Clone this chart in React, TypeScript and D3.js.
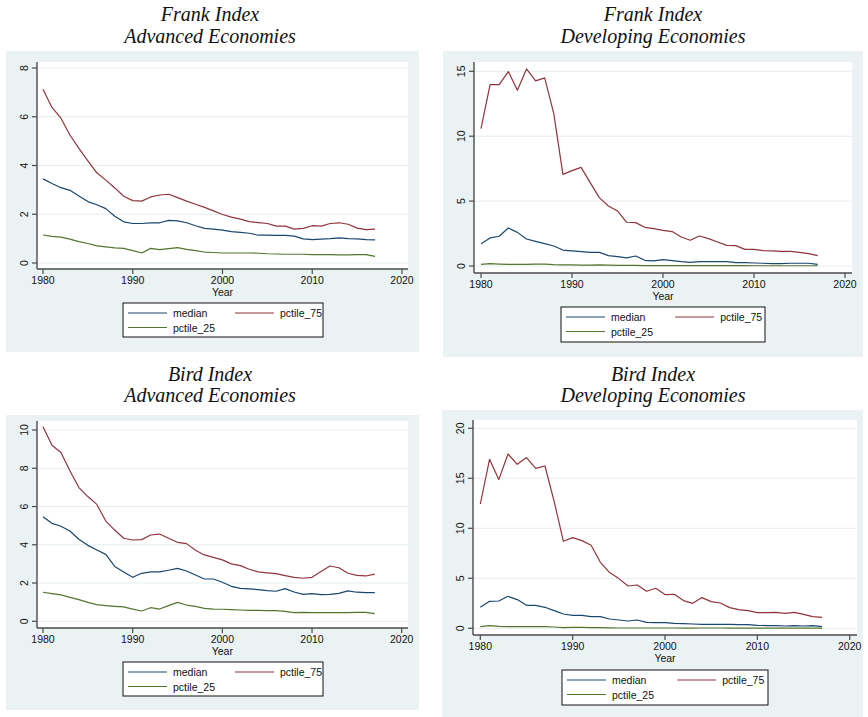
import { useRef, useEffect } from "react";
import * as d3 from "d3";

const years = d3.range(1980, 2018);

const frankAdvMedian = [3.45, 3.26, 3.09, 2.98, 2.75, 2.52, 2.39, 2.23, 1.92, 1.69, 1.62, 1.62, 1.65, 1.65, 1.75, 1.73, 1.65, 1.53, 1.42, 1.39, 1.35, 1.29, 1.26, 1.22, 1.14, 1.14, 1.13, 1.13, 1.1, 0.99, 0.96, 0.98, 1.0, 1.03, 1.0, 0.99, 0.96, 0.95];
const frankAdvP75 = [7.13, 6.38, 5.94, 5.25, 4.7, 4.19, 3.7, 3.4, 3.08, 2.74, 2.56, 2.54, 2.71, 2.79, 2.82, 2.68, 2.54, 2.41, 2.28, 2.14, 1.99, 1.88, 1.8, 1.7, 1.66, 1.62, 1.51, 1.51, 1.39, 1.42, 1.53, 1.51, 1.62, 1.65, 1.59, 1.43, 1.37, 1.39];
const frankAdvP25 = [1.15, 1.09, 1.06, 0.98, 0.88, 0.8, 0.7, 0.66, 0.62, 0.6, 0.51, 0.41, 0.6, 0.55, 0.59, 0.63, 0.56, 0.51, 0.45, 0.43, 0.41, 0.41, 0.41, 0.41, 0.4, 0.38, 0.37, 0.36, 0.36, 0.36, 0.34, 0.34, 0.34, 0.33, 0.33, 0.34, 0.34, 0.27];

const frankDevMedian = [1.72, 2.16, 2.29, 2.93, 2.59, 2.08, 1.9, 1.72, 1.54, 1.23, 1.16, 1.1, 1.05, 1.05, 0.8, 0.72, 0.62, 0.77, 0.44, 0.39, 0.49, 0.41, 0.33, 0.28, 0.33, 0.33, 0.33, 0.33, 0.26, 0.26, 0.23, 0.21, 0.18, 0.18, 0.21, 0.21, 0.21, 0.13];
const frankDevP75 = [10.58, 13.97, 13.97, 14.98, 13.54, 15.18, 14.26, 14.49, 11.74, 7.06, 7.35, 7.6, 6.42, 5.27, 4.62, 4.24, 3.37, 3.34, 2.98, 2.88, 2.75, 2.65, 2.23, 1.98, 2.31, 2.11, 1.85, 1.59, 1.57, 1.28, 1.28, 1.18, 1.16, 1.13, 1.13, 1.05, 0.95, 0.8];
const frankDevP25 = [0.13, 0.18, 0.15, 0.13, 0.13, 0.12, 0.15, 0.15, 0.1, 0.08, 0.08, 0.07, 0.07, 0.08, 0.06, 0.05, 0.05, 0.05, 0.03, 0.03, 0.03, 0.03, 0.03, 0.03, 0.03, 0.03, 0.03, 0.03, 0.03, 0.03, 0.02, 0.02, 0.02, 0.02, 0.02, 0.02, 0.02, 0.02];

const birdAdvMedian = [5.47, 5.12, 4.97, 4.72, 4.29, 3.97, 3.73, 3.5, 2.87, 2.58, 2.3, 2.51, 2.58, 2.58, 2.67, 2.77, 2.63, 2.42, 2.21, 2.21, 2.04, 1.83, 1.72, 1.69, 1.66, 1.6, 1.57, 1.71, 1.53, 1.41, 1.45, 1.39, 1.41, 1.46, 1.59, 1.52, 1.5, 1.5];
const birdAdvP75 = [10.17, 9.2, 8.82, 7.87, 6.99, 6.52, 6.11, 5.24, 4.77, 4.34, 4.25, 4.27, 4.51, 4.56, 4.34, 4.13, 4.06, 3.71, 3.47, 3.34, 3.21, 3.0, 2.91, 2.72, 2.58, 2.53, 2.49, 2.39, 2.3, 2.25, 2.3, 2.6, 2.89, 2.8, 2.51, 2.4, 2.37, 2.47];
const birdAdvP25 = [1.52, 1.45, 1.38, 1.25, 1.13, 0.99, 0.87, 0.82, 0.78, 0.75, 0.64, 0.54, 0.71, 0.64, 0.82, 0.99, 0.85, 0.78, 0.68, 0.64, 0.63, 0.61, 0.59, 0.57, 0.57, 0.56, 0.56, 0.52, 0.45, 0.47, 0.45, 0.45, 0.45, 0.45, 0.45, 0.47, 0.47, 0.4];

const birdDevMedian = [2.1, 2.7, 2.73, 3.2, 2.87, 2.3, 2.3, 2.1, 1.77, 1.43, 1.3, 1.3, 1.17, 1.17, 0.93, 0.83, 0.73, 0.83, 0.6, 0.57, 0.57, 0.5, 0.47, 0.43, 0.4, 0.4, 0.4, 0.4, 0.37, 0.37, 0.3, 0.27, 0.27, 0.23, 0.27, 0.23, 0.27, 0.17];
const birdDevP75 = [12.43, 16.9, 14.87, 17.43, 16.4, 17.07, 16.0, 16.23, 12.67, 8.7, 9.07, 8.77, 8.3, 6.6, 5.57, 4.97, 4.23, 4.33, 3.7, 4.0, 3.37, 3.4, 2.77, 2.5, 3.07, 2.67, 2.53, 2.07, 1.87, 1.77, 1.57, 1.57, 1.6, 1.5, 1.6, 1.4, 1.17, 1.1];
const birdDevP25 = [0.17, 0.27, 0.2, 0.17, 0.17, 0.17, 0.17, 0.17, 0.13, 0.07, 0.1, 0.1, 0.07, 0.07, 0.04, 0.03, 0.03, 0.03, 0.03, 0.03, 0.03, 0.03, 0.02, 0.02, 0.03, 0.03, 0.03, 0.02, 0.02, 0.02, 0.02, 0.02, 0.02, 0.02, 0.02, 0.02, 0.02, 0.02];

const xTicks = [1980, 1990, 2000, 2010, 2020];
const seriesNames = ["median", "pctile_75", "pctile_25"];
const seriesColors = ["#1a476f", "#90353b", "#55752f"];

const panels = [
  {
    title: ["Frank Index", "Advanced Economies"],
    series: [frankAdvMedian, frankAdvP75, frankAdvP25],
    yTicks: [0, 2, 4, 6, 8],
    bg: { x: 6, y: 51, w: 413, h: 301 },
    plot: { left: 37, top: 62, right: 408, bottom: 269 },
    xr: [43, 402], yr: [263, 68],
    titleX: 210, titleY: [21, 43],
    legend: { x: 123, y: 303, w: 200, h: 34 },
  },
  {
    title: ["Frank Index", "Developing Economies"],
    series: [frankDevMedian, frankDevP75, frankDevP25],
    yTicks: [0, 5, 10, 15],
    bg: { x: 443, y: 51, w: 420, h: 306 },
    plot: { left: 474, top: 62, right: 852, bottom: 273 },
    xr: [481, 845], yr: [266, 71.3],
    titleX: 653, titleY: [21, 43],
    legend: { x: 561, y: 307, w: 204, h: 35 },
  },
  {
    title: ["Bird Index", "Advanced Economies"],
    series: [birdAdvMedian, birdAdvP75, birdAdvP25],
    yTicks: [0, 2, 4, 6, 8, 10],
    bg: { x: 6, y: 415, w: 413, h: 295 },
    plot: { left: 37, top: 421, right: 408, bottom: 628 },
    xr: [43, 401.7], yr: [621.3, 430],
    titleX: 210, titleY: [381, 402],
    legend: { x: 123, y: 662, w: 200, h: 34 },
  },
  {
    title: ["Bird Index", "Developing Economies"],
    series: [birdDevMedian, birdDevP75, birdDevP25],
    yTicks: [0, 5, 10, 15, 20],
    bg: { x: 442, y: 410, w: 421, h: 307 },
    plot: { left: 473, top: 420, right: 857, bottom: 635 },
    xr: [480.3, 849.7], yr: [628.3, 428.3],
    titleX: 653, titleY: [381, 402],
    legend: { x: 562, y: 670, w: 206, h: 35 },
  },
];

export default function App() {
  const svgRef = useRef<SVGSVGElement>(null);

  useEffect(() => {
    if (!svgRef.current) return;
    const svg = d3.select(svgRef.current);
    svg.selectAll("*").remove();

    const sans = "'Liberation Sans', Arial, sans-serif";
    const axisColor = "#4b4b4b";

    panels.forEach((p) => {
      const g = svg.append("g");
      const yMax = p.yTicks[p.yTicks.length - 1];
      const x = d3.scaleLinear().domain([1980, 2020]).range(p.xr);
      const y = d3.scaleLinear().domain([0, yMax]).range(p.yr);

      // outer graph region
      g.append("rect")
        .attr("x", p.bg.x).attr("y", p.bg.y)
        .attr("width", p.bg.w).attr("height", p.bg.h)
        .attr("fill", "#eaf2f3");

      // plot region
      g.append("rect")
        .attr("x", p.plot.left).attr("y", p.plot.top)
        .attr("width", p.plot.right - p.plot.left)
        .attr("height", p.plot.bottom - p.plot.top)
        .attr("fill", "#ffffff");

      // titles
      p.title.forEach((t, i) => {
        svg.append("text")
          .attr("x", p.titleX).attr("y", p.titleY[i])
          .attr("text-anchor", "middle")
          .attr("font-family", "'Liberation Serif', 'Times New Roman', serif")
          .attr("font-style", "italic")
          .attr("font-size", "20px")
          .attr("fill", "#111")
          .text(t);
      });

      // grid
      g.selectAll(".grid")
        .data(p.yTicks)
        .join("line")
        .attr("x1", p.plot.left).attr("x2", p.plot.right)
        .attr("y1", (d) => y(d)).attr("y2", (d) => y(d))
        .attr("stroke", "#e4eef0")
        .attr("stroke-width", 1);

      // series
      const line = d3.line<number>()
        .x((_, i) => x(years[i]))
        .y((d) => y(d));
      [2, 0, 1].forEach((k) => {
        g.append("path")
          .datum(p.series[k])
          .attr("d", line)
          .attr("fill", "none")
          .attr("stroke", seriesColors[k])
          .attr("stroke-width", 1.2)
          .attr("stroke-linejoin", "round");
      });

      // axes lines
      g.append("line")
        .attr("x1", p.plot.left).attr("x2", p.plot.left)
        .attr("y1", p.plot.top).attr("y2", p.plot.bottom)
        .attr("stroke", axisColor).attr("stroke-width", 1.4);
      g.append("line")
        .attr("x1", p.plot.left).attr("x2", p.plot.right)
        .attr("y1", p.plot.bottom).attr("y2", p.plot.bottom)
        .attr("stroke", axisColor).attr("stroke-width", 1.4);

      // y ticks
      g.selectAll(".ytick")
        .data(p.yTicks)
        .join("line")
        .attr("x1", p.plot.left - 5).attr("x2", p.plot.left)
        .attr("y1", (d) => y(d)).attr("y2", (d) => y(d))
        .attr("stroke", axisColor).attr("stroke-width", 1.2);
      g.selectAll(".ylab")
        .data(p.yTicks)
        .join("text")
        .attr("transform", (d) => `translate(${p.plot.left - 9.5},${y(d)}) rotate(-90)`)
        .attr("text-anchor", "middle")
        .attr("font-family", sans)
        .attr("font-size", "10.5px")
        .attr("fill", "#111")
        .text((d) => d);

      // x ticks
      g.selectAll(".xtick")
        .data(xTicks)
        .join("line")
        .attr("x1", (d) => x(d)).attr("x2", (d) => x(d))
        .attr("y1", p.plot.bottom).attr("y2", p.plot.bottom + 5)
        .attr("stroke", axisColor).attr("stroke-width", 1.2);
      g.selectAll(".xlab")
        .data(xTicks)
        .join("text")
        .attr("x", (d) => x(d))
        .attr("y", p.plot.bottom + 15)
        .attr("text-anchor", "middle")
        .attr("font-family", sans)
        .attr("font-size", "10.5px")
        .attr("fill", "#111")
        .text((d) => d);
      g.append("text")
        .attr("x", x(2000))
        .attr("y", p.plot.bottom + 26.5)
        .attr("text-anchor", "middle")
        .attr("font-family", sans)
        .attr("font-size", "10.5px")
        .attr("fill", "#111")
        .text("Year");

      // legend
      const L = p.legend;
      g.append("rect")
        .attr("x", L.x).attr("y", L.y)
        .attr("width", L.w).attr("height", L.h)
        .attr("fill", "#fff")
        .attr("stroke", "#111")
        .attr("stroke-width", 1);
      const colOff = [0, L.w * 0.535, 0];
      const rowOff = [0, 0, 1];
      seriesNames.forEach((name, k) => {
        const lx = L.x + 5 + colOff[k];
        const ly = L.y + 10 + rowOff[k] * 14.5;
        g.append("line")
          .attr("x1", lx).attr("x2", lx + 39)
          .attr("y1", ly).attr("y2", ly)
          .attr("stroke", seriesColors[k])
          .attr("stroke-width", 1.2);
        g.append("text")
          .attr("x", lx + 45).attr("y", ly + 4)
          .attr("font-family", sans)
          .attr("font-size", "10.5px")
          .attr("fill", "#111")
          .text(name);
      });
    });
  }, []);

  return (
    <svg
      ref={svgRef}
      width={868}
      height={717}
      style={{ position: "absolute", left: 0, top: 0, background: "#fff" }}
    />
  );
}
